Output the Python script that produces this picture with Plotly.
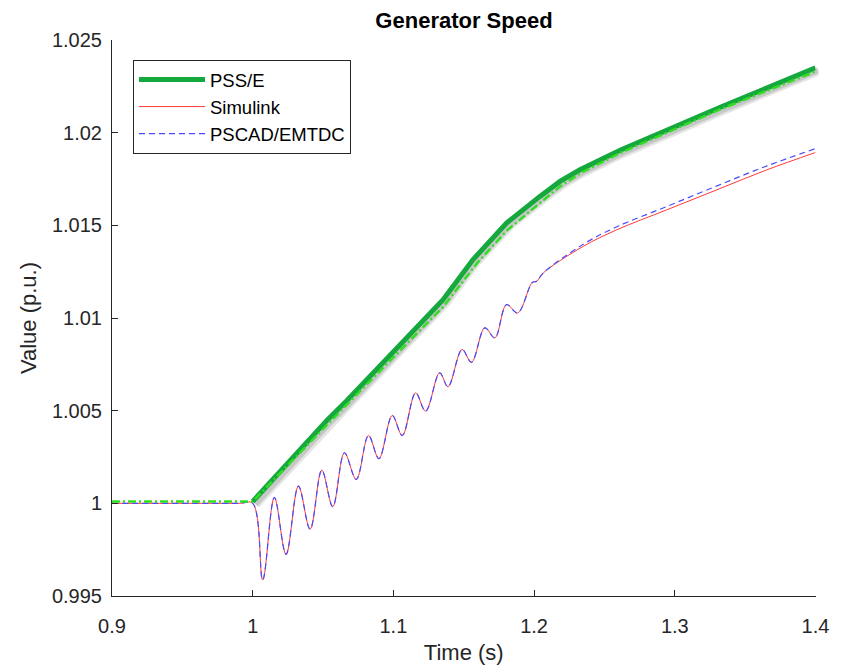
import plotly.graph_objects as go

# PSS/E: thick line (starts at the disturbance) and dash-dot overlay
t_pss = [1.0, 1.0534, 1.0665, 1.1, 1.1353, 1.1566, 1.1804, 1.2041, 1.2184, 1.2326, 1.2611, 1.3336, 1.4]
v_pss = [1.0001, 1.00453, 1.00551, 1.00818, 1.01099, 1.01315, 1.01512, 1.01656, 1.01737, 1.01800, 1.01905, 1.02141, 1.0235]

t_pss_dash = [0.9, 1.0, 1.0665, 1.1353, 1.16, 1.1804, 1.2041, 1.2184, 1.2326, 1.2611, 1.3336, 1.4]
v_pss_dash = [1.0001, 1.0001, 1.0053, 1.0106, 1.0130, 1.0147, 1.0162, 1.0171, 1.0178, 1.0189, 1.0213, 1.0233]

# Simulink and PSCAD/EMTDC (peaks and troughs of the oscillation)
t_sim = [0.9, 0.99, 1.0, 1.0071, 1.0154, 1.0237, 1.0325, 1.0408, 1.0491, 1.0569, 1.0652,
         1.0736, 1.0823, 1.0897, 1.0992, 1.1063, 1.1158, 1.1229, 1.1329, 1.1388, 1.1488,
         1.1555, 1.1650, 1.1721, 1.1804, 1.1883, 1.1987, 1.2018, 1.2065, 1.2350, 1.2588,
         1.2944, 1.3300, 1.3656, 1.4]
v_sim = [1.0, 1.0, 1.0, 0.99587, 1.00032, 0.99725, 1.00093, 0.99860, 1.00179, 0.99982, 1.00273,
         1.00129, 1.00366, 1.00241, 1.00474, 1.00366, 1.00596, 1.00497, 1.00704, 1.00629, 1.00830,
         1.00761, 1.00947, 1.00893, 1.01072, 1.01027, 1.01192, 1.01198, 1.01243, 1.01387, 1.01476,
         1.01584, 1.01692, 1.01800, 1.01893]
t_emt = t_sim
v_emt = [1.0, 1.0, 1.0, 0.99587, 1.00032, 0.99725, 1.00093, 0.99860, 1.00179, 0.99982, 1.00273,
         1.00129, 1.00366, 1.00241, 1.00474, 1.00366, 1.00596, 1.00497, 1.00704, 1.00629, 1.00830,
         1.00761, 1.00947, 1.00893, 1.01072, 1.01027, 1.01192, 1.01198, 1.01243, 1.01398, 1.01492,
         1.01602, 1.01713, 1.01821, 1.01914]

x_ticks = [0.9, 1.0, 1.1, 1.2, 1.3, 1.4]
x_labels = ['0.9', '1', '1.1', '1.2', '1.3', '1.4']
y_ticks = [0.995, 1.0, 1.005, 1.01, 1.015, 1.02, 1.025]
y_labels = ['0.995', '1', '1.005', '1.01', '1.015', '1.02', '1.025']

font = 'Liberation Sans, Arial, Helvetica, sans-serif'
ink = '#262626'

# the page body has an 8px margin, so the figure is 8px smaller than the window
W, H = 836, 658
L, T, PW, PH = 104, 32, 707, 559
SH = 3  # shadow offset in px

fig = go.Figure()

# soft drop shadow under the PSS/E line, on a slightly shifted hidden subplot
fig.add_trace(go.Scatter(x = t_pss, y = v_pss, mode = 'lines', xaxis = 'x', yaxis = 'y',
                         line = dict(color = 'rgba(0,0,0,0.10)', width = 9), showlegend = False, hoverinfo = 'skip'))
fig.add_trace(go.Scatter(x = t_pss, y = v_pss, mode = 'lines', xaxis = 'x', yaxis = 'y',
                         line = dict(color = 'rgba(0,0,0,0.13)', width = 5), showlegend = False, hoverinfo = 'skip'))

fig.add_trace(go.Scatter(x = t_pss, y = v_pss, mode = 'lines', name = 'PSS/E', xaxis = 'x2', yaxis = 'y2',
                         line = dict(color = '#15a83d', width = 5)))
fig.add_trace(go.Scatter(x = t_sim, y = v_sim, mode = 'lines', name = 'Simulink', xaxis = 'x2', yaxis = 'y2',
                         line = dict(color = '#ff3838', width = 1, shape = 'spline')))
fig.add_trace(go.Scatter(x = t_emt, y = v_emt, mode = 'lines', name = 'PSCAD/EMTDC', xaxis = 'x2', yaxis = 'y2',
                         line = dict(color = '#4a4aff', width = 1.2, dash = '6px,4px', shape = 'spline')))
fig.add_trace(go.Scatter(x = t_pss_dash, y = v_pss_dash, mode = 'lines', xaxis = 'x2', yaxis = 'y2',
                         line = dict(color = '#33dd22', width = 2.5, dash = '8px,3px,2px,3px'), showlegend = False))

axis_style = dict(showline = True, linecolor = ink, linewidth = 1, ticks = 'inside', ticklen = 6,
                  tickcolor = ink, showgrid = False, zeroline = False, automargin = False,
                  tickfont = dict(family = font, size = 20, color = ink))

fig.update_layout(
    width = W, height = H,
    margin = dict(l = L, r = W - L - PW, t = T, b = H - T - PH),
    paper_bgcolor = 'white', plot_bgcolor = 'rgba(0,0,0,0)',
    font = dict(family = font, color = ink),
    title = dict(text = 'Generator Speed', x = 456 / W, xref = 'container', xanchor = 'center',
                 y = 1 - 12 / H, yref = 'container', yanchor = 'middle',
                 font = dict(family = font, size = 22, color = 'black', weight = 'bold')),
    xaxis = dict(domain = [SH / PW, (PW - 0.5) / PW], range = [0.9, 1.4], visible = False, anchor = 'y'),
    yaxis = dict(domain = [0, (PH - SH) / PH], range = [0.995, 1.025], visible = False, anchor = 'x'),
    xaxis2 = dict(domain = [0, (PW - SH - 0.5) / PW], range = [0.9, 1.4], anchor = 'y2',
                  tickvals = x_ticks, ticktext = x_labels, ticklabelstandoff = 12,
                  title = dict(text = 'Time (s)', standoff = 8, font = dict(family = font, size = 22, color = ink)),
                  **axis_style),
    yaxis2 = dict(domain = [SH / PH, 1], range = [0.995, 1.025], anchor = 'x2',
                  tickvals = y_ticks, ticktext = y_labels, ticklabelstandoff = 5,
                  title = dict(text = 'Value (p.u.)', standoff = 9, font = dict(family = font, size = 22, color = ink)),
                  **axis_style),
    legend = dict(x = 21 / PW, y = 1 - 20 / PH, xanchor = 'left', yanchor = 'top',
                  bgcolor = 'white', bordercolor = ink, borderwidth = 1, itemwidth = 66,
                  font = dict(family = font, size = 18.5, color = 'black'), tracegroupgap = 0),
    hovermode = False,
)

fig.write_html("out.html")
